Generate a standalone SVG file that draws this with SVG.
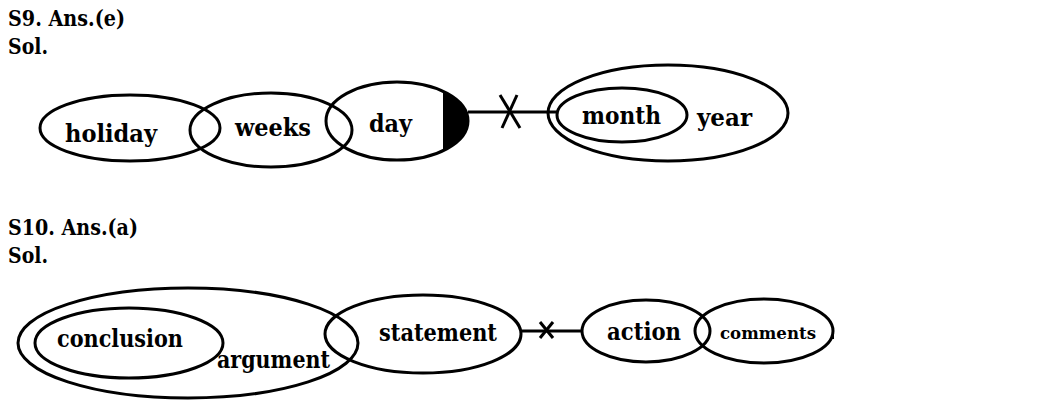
<svg xmlns="http://www.w3.org/2000/svg" width="1047" height="406" viewBox="0 0 1047 406">
<style>
.e{fill:none;stroke:#000;stroke-width:3}
.l{stroke:#000;stroke-width:3;fill:none}
.t{font-family:"DejaVu Serif","Liberation Serif",serif;font-weight:bold;fill:#000}
.h{font-size:22px}
.n{font-size:25px}
.s{font-size:17px}
</style>
<rect width="1047" height="406" fill="#fff"/>
<text class="t h" x="8" y="26" textLength="117" lengthAdjust="spacingAndGlyphs">S9. Ans.(e)</text>
<text class="t h" x="8" y="54" textLength="40" lengthAdjust="spacingAndGlyphs">Sol.</text>
<text class="t h" x="8" y="235" textLength="130" lengthAdjust="spacingAndGlyphs">S10. Ans.(a)</text>
<text class="t h" x="8" y="263" textLength="40" lengthAdjust="spacingAndGlyphs">Sol.</text>

<g id="connectors">
<line class="l" x1="468" y1="112" x2="557" y2="112"/>
<line class="l" x1="500" y1="95" x2="520" y2="128"/>
<line class="l" x1="517" y1="95" x2="502" y2="128"/>
<line class="l" x1="522" y1="331" x2="582" y2="331"/>
<line class="l" x1="540" y1="322" x2="553" y2="338"/>
<line class="l" x1="553" y1="322" x2="540" y2="338"/>
</g>

<g id="holiday">
<ellipse class="e" cx="130" cy="128" rx="90" ry="33"/>
<text class="t n" x="65" y="142" textLength="92" lengthAdjust="spacingAndGlyphs">holiday</text>
</g>
<g id="weeks">
<ellipse class="e" cx="271" cy="130" rx="81" ry="37"/>
<text class="t n" x="235" y="136" textLength="76" lengthAdjust="spacingAndGlyphs">weeks</text>
</g>
<g id="day">
<path d="M443,91.3 A71,39 0 0 1 443,150.7 Z" fill="#000"/>
<ellipse class="e" cx="397" cy="121" rx="71" ry="39"/>
<text class="t n" x="369" y="132" textLength="43" lengthAdjust="spacingAndGlyphs">day</text>
</g>
<g id="year">
<ellipse class="e" cx="668" cy="113" rx="120" ry="48"/>
<text class="t n" x="697" y="126" textLength="55" lengthAdjust="spacingAndGlyphs">year</text>
</g>
<g id="month">
<ellipse class="e" cx="622" cy="115" rx="65" ry="27"/>
<text class="t n" x="582" y="124" textLength="79" lengthAdjust="spacingAndGlyphs">month</text>
</g>

<g id="argument">
<ellipse class="e" cx="188" cy="343" rx="170" ry="55"/>
<text class="t n" x="217" y="368" textLength="113" lengthAdjust="spacingAndGlyphs">argument</text>
</g>
<g id="conclusion">
<ellipse class="e" cx="129" cy="343" rx="94" ry="35"/>
<text class="t n" x="57" y="347" textLength="126" lengthAdjust="spacingAndGlyphs">conclusion</text>
</g>
<g id="statement">
<ellipse class="e" cx="423" cy="334" rx="98" ry="39"/>
<text class="t n" x="379" y="341" textLength="118" lengthAdjust="spacingAndGlyphs">statement</text>
</g>
<g id="action">
<ellipse class="e" cx="646" cy="331" rx="64" ry="31"/>
<text class="t n" x="607" y="340" textLength="74" lengthAdjust="spacingAndGlyphs">action</text>
</g>
<g id="comments">
<ellipse class="e" cx="764" cy="331" rx="69" ry="32"/>
<text class="t s" x="720" y="339" textLength="96" lengthAdjust="spacingAndGlyphs">comments</text>
<line x1="833" y1="327" x2="833" y2="339" stroke="#000" stroke-width="2"/>
</g>
</svg>
